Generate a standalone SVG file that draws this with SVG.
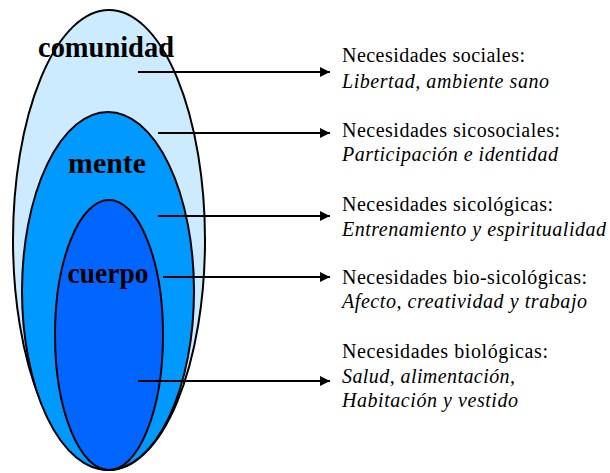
<svg xmlns="http://www.w3.org/2000/svg" width="610" height="473" viewBox="0 0 610 473">
<style>
.el{stroke:#000;stroke-width:2}
.lbl{font-family:"Liberation Serif","Times New Roman","DejaVu Serif",serif;font-weight:bold;font-size:29px;text-anchor:middle;fill:#000}
.t{font-family:"Liberation Serif","Times New Roman","DejaVu Serif",serif;font-size:20px;fill:#000}
.i{font-style:italic}
.c{stroke:#000;stroke-width:2;fill:none}
</style>
<defs>
<marker id="ah" viewBox="0 0 10 10" refX="10" refY="5" markerWidth="5" markerHeight="5" orient="auto" markerUnits="strokeWidth">
<path d="M0,0 L10,5 L0,10 z" fill="#000"/>
</marker>
</defs>
<g id="comunidad">
<ellipse class="el" cx="109" cy="240" rx="96" ry="230" fill="#CCEBFF"/>
<text class="lbl" x="106" y="57" textLength="136" lengthAdjust="spacingAndGlyphs">comunidad</text>
</g>
<g id="mente">
<ellipse class="el" cx="108" cy="291" rx="86" ry="179" fill="#0099FF"/>
<text class="lbl" x="107" y="173" textLength="78" lengthAdjust="spacingAndGlyphs">mente</text>
</g>
<g id="cuerpo">
<ellipse class="el" cx="109" cy="335" rx="54" ry="135" fill="#0066FF"/>
<text class="lbl" x="108" y="283" textLength="81" lengthAdjust="spacingAndGlyphs">cuerpo</text>
</g>
<g id="connectors">
<line class="c" x1="138" y1="72" x2="330" y2="72" marker-end="url(#ah)"/>
<line class="c" x1="158" y1="133" x2="330" y2="133" marker-end="url(#ah)"/>
<line class="c" x1="158" y1="216" x2="330" y2="216" marker-end="url(#ah)"/>
<line class="c" x1="163" y1="277" x2="330" y2="277" marker-end="url(#ah)"/>
<line class="c" x1="138" y1="381" x2="330" y2="381" marker-end="url(#ah)"/>
</g>
<g id="n1">
<text class="t" x="342" y="62" textLength="183">Necesidades sociales:</text>
<text class="t i" x="342" y="88" textLength="207">Libertad, ambiente sano</text>
</g>
<g id="n2">
<text class="t" x="342" y="137" textLength="218">Necesidades sicosociales:</text>
<text class="t i" x="342" y="161" textLength="216">Participación e identidad</text>
</g>
<g id="n3">
<text class="t" x="342" y="211" textLength="211">Necesidades sicológicas:</text>
<text class="t i" x="342" y="236" textLength="264">Entrenamiento y espiritualidad</text>
</g>
<g id="n4">
<text class="t" x="342" y="284" textLength="245">Necesidades bio-sicológicas:</text>
<text class="t i" x="342" y="308" textLength="245">Afecto, creatividad y trabajo</text>
</g>
<g id="n5">
<text class="t" x="342" y="358" textLength="206">Necesidades biológicas:</text>
<text class="t i" x="342" y="383" textLength="173">Salud, alimentación,</text>
<text class="t i" x="342" y="407" textLength="176">Habitación y vestido</text>
</g>
</svg>
